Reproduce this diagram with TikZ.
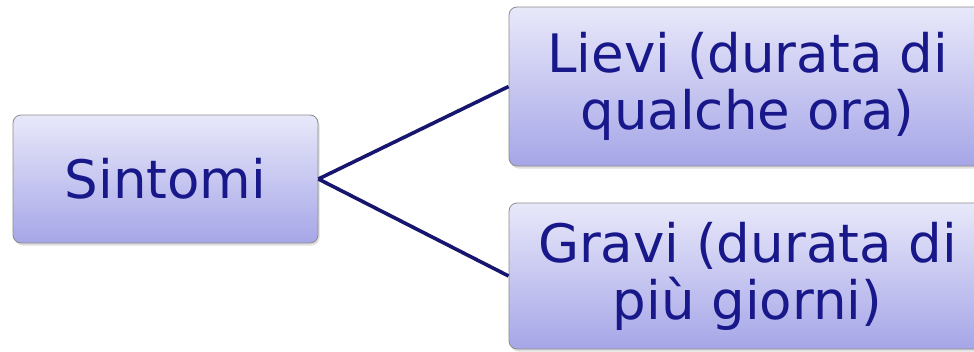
\documentclass[tikz,border=0pt]{standalone}
\usepackage{fontspec}
\setmainfont{DejaVu Sans}
\usetikzlibrary{shadows}
\definecolor{boxtop}{RGB}{232,232,250}
\definecolor{boxbottom}{RGB}{166,166,232}
\definecolor{boxtext}{RGB}{24,24,138}
\definecolor{linkcol}{RGB}{22,22,110}
\begin{document}
\begin{tikzpicture}[x=1pt, y=-1pt,
  every node/.style={font=\fontsize{53}{57}\selectfont, text=boxtext},
  topic/.style={draw=gray!90, line width=0.8pt, rounded corners=8pt,
    top color=boxtop, bottom color=boxbottom, inner sep=0pt, align=center,
    drop shadow={opacity=0.25, shadow xshift=1.5pt, shadow yshift=-2.5pt}},
  link/.style={draw=linkcol, line width=3.6pt}]
  \useasboundingbox (0,0) rectangle (974,351);
  \node[topic, minimum width=305pt, minimum height=128pt] (sint) at (165.5,179) {Sintomi};
  \node[topic, minimum width=477pt, minimum height=159pt] (lievi) at (747.5,86.5) {Lievi (durata di\\qualche ora)};
  \node[topic, minimum width=477pt, minimum height=146pt] (gravi) at (747.5,276) {Gravi (durata di\\più giorni)};
  \draw[link] (sint.east) -- (lievi.west);
  \draw[link] (sint.east) -- (gravi.west);
\end{tikzpicture}
\end{document}
